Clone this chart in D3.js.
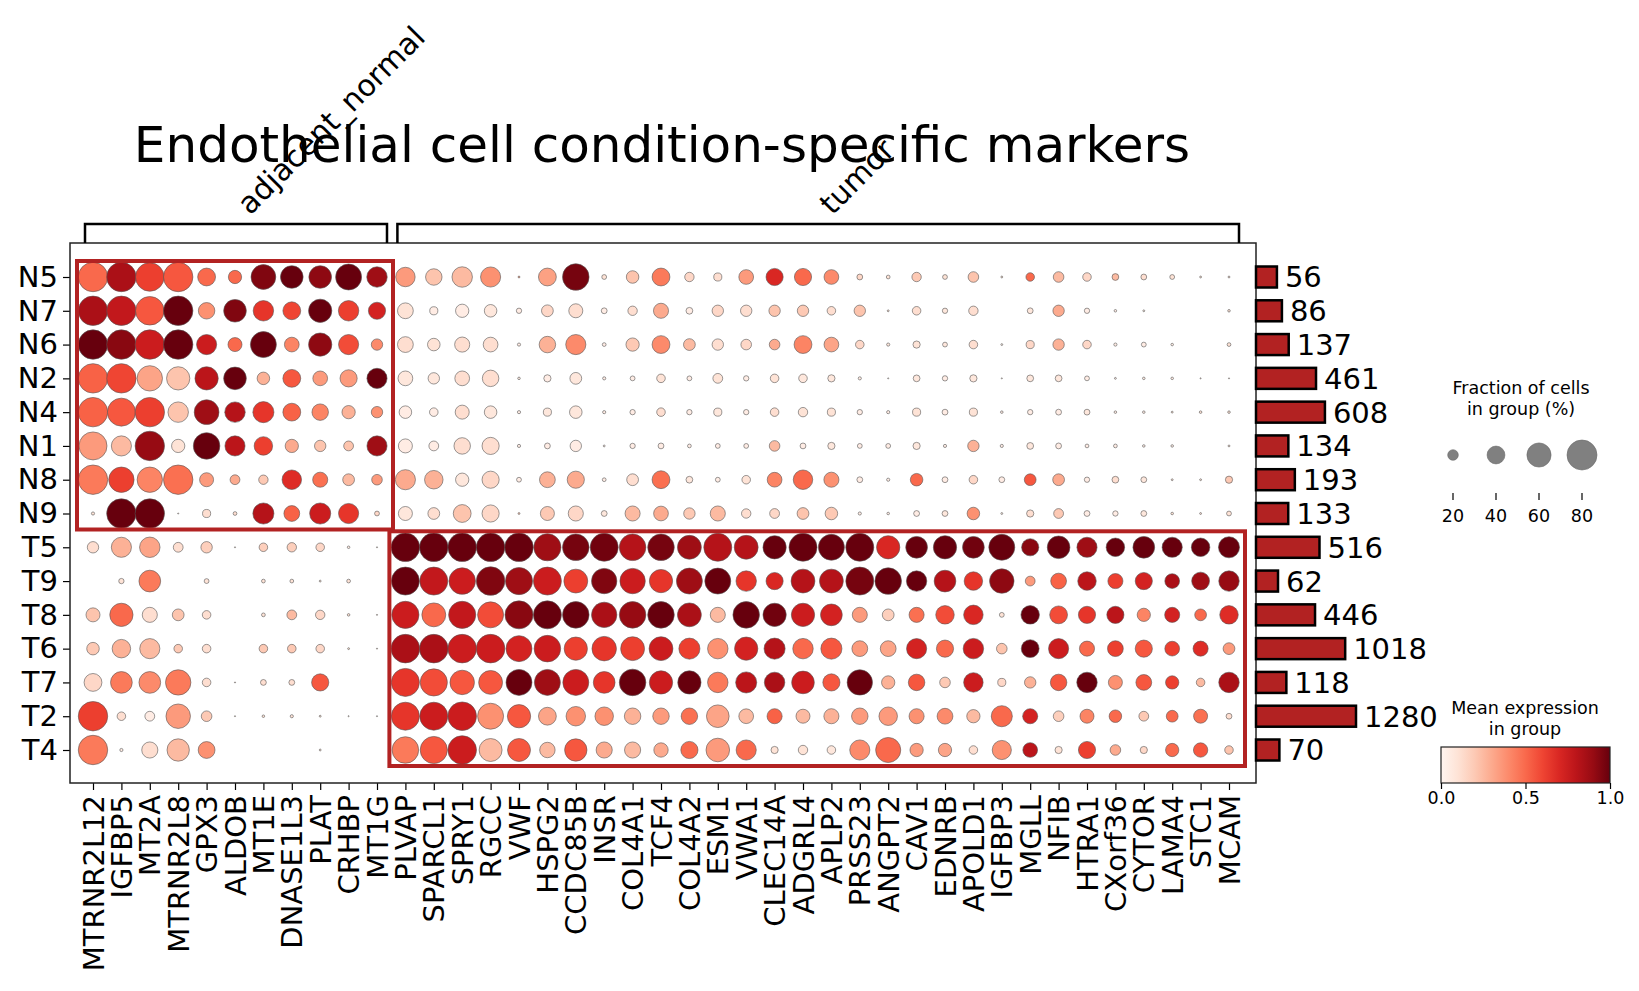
<!DOCTYPE html>
<html>
<head>
<meta charset="utf-8">
<script src="https://cdn.jsdelivr.net/npm/d3@7"></script>
<style>
  body { margin: 0; background: #fff; }
  text { font-family: "DejaVu Sans", sans-serif; fill: #000; }
</style>
</head>
<body>
<svg id="chart" width="1639" height="991"></svg>
<script>
// genes (columns), grouped by condition
const genes = ['MTRNR2L12','IGFBP5','MT2A','MTRNR2L8','GPX3','ALDOB','MT1E','DNASE1L3','PLAT','CRHBP','MT1G',
  'PLVAP','SPARCL1','SPRY1','RGCC','VWF','HSPG2','CCDC85B','INSR','COL4A1','TCF4','COL4A2','ESM1','VWA1',
  'CLEC14A','ADGRL4','APLP2','PRSS23','ANGPT2','CAV1','EDNRB','APOLD1','IGFBP3','MGLL','NFIB','HTRA1',
  'CXorf36','CYTOR','LAMA4','STC1','MCAM']
const conditions = [
  { name: 'adjacent_normal', first: 0, last: 10 },
  { name: 'tumor', first: 11, last: 40 }
]
const groups = ['N5','N7','N6','N2','N4','N1','N8','N9','T5','T9','T8','T6','T7','T2','T4']
const cellCounts = [56, 86, 137, 461, 608, 134, 193, 133, 516, 62, 446, 1018, 118, 1280, 70]

// fraction of cells expressing (%), one row per group
const fractionPct = [
  [78,78,75,78,40,27,62,55,55,66,48, 45,36,48,47,2,40,68,7,25,40,17,14,31,38,38, 31,9,5,17,7,20,2,15,20,15,11,9,7,2,2],
  [78,78,75,78,36,55,48,40,57,48,38, 34,14,27,25,8,23,29,9,17,32,11,22,22,22,22, 15,22,2,15,8,17,0,9,22,8,3,2,0,0,3],
  [78,78,78,78,47,29,66,31,57,47,22, 34,25,32,31,4,36,47,5,27,40,23,22,20,20,40, 31,15,4,12,7,15,2,14,22,15,4,7,3,0,5],
  [78,78,64,57,57,55,25,40,31,38,47, 31,22,31,36,3,12,23,4,7,15,7,18,8,15,15, 12,4,1,11,8,12,1,11,11,7,2,3,3,1,1],
  [78,73,78,48,62,48,50,40,36,27,22, 25,15,29,25,4,14,25,4,8,15,8,14,8,15,17, 14,8,4,14,9,14,3,8,9,9,3,3,2,3,3],
  [73,47,78,27,68,47,42,27,22,18,47, 29,18,36,38,4,9,22,2,8,9,5,7,7,20,9, 12,7,7,12,4,22,4,11,9,5,5,3,3,0,2],
  [78,64,64,78,29,18,17,45,32,23,20, 47,42,27,38,7,34,38,5,23,40,11,7,15,31,45, 32,9,4,25,9,15,9,23,23,8,11,9,2,2,12],
  [4,78,78,1,14,5,50,34,50,47,7, 29,23,40,38,2,29,32,9,32,31,22,32,17,18,23, 25,4,3,9,9,25,2,12,18,9,8,9,3,2,7],
  [22,47,48,18,22,1,15,17,15,3,1, 75,75,75,75,75,70,68,73,68,68,59,73,59,57,73, 66,73,57,52,57,52,66,38,55,47,42,52,47,42,50],
  [0,8,52,0,7,0,5,5,2,5,0, 73,73,68,75,70,73,59,64,64,57,66,66,48,38,59, 59,73,68,48,52,42,61,18,34,42,32,38,31,40,48],
  [29,57,32,23,15,0,5,18,17,3,1, 70,59,70,66,73,73,68,64,68,68,59,32,68,57,57, 52,32,23,32,42,45,7,42,40,38,38,27,32,23,42],
  [25,42,47,15,15,0,15,15,15,2,1, 75,75,75,75,66,68,57,61,59,59,50,48,57,50,48, 50,34,34,47,38,48,20,40,47,32,34,38,31,32,23],
  [40,52,52,64,15,1,9,9,38,0,0, 73,70,61,59,66,66,66,52,68,57,57,48,50,48,55, 38,64,27,36,20,45,14,22,36,48,29,34,27,15,48],
  [78,15,18,61,20,1,3,4,2,1,1, 73,73,75,66,57,40,45,42,36,36,36,55,31,32,29, 32,36,42,32,34,27,50,32,20,29,25,18,23,29,9],
  [78,4,35,54,37,0,0,0,2,0,0, 68,70,75,56,56,33,54,35,35,30,38,58,47,12,17, 15,47,63,27,27,15,44,31,12,38,20,12,27,30,15]
]

// mean expression in group (scaled 0-1), one row per group
const meanExpr = [
  [0.5,0.85,0.62,0.55,0.5,0.5,0.95,1.0,0.92,1.0,0.88, 0.35,0.22,0.25,0.38,0.3,0.33,0.97,0.1,0.22,0.45,0.15,0.12,0.35,0.7,0.5, 0.4,0.15,0.1,0.2,0.1,0.22,0.1,0.5,0.25,0.15,0.25,0.12,0.1,0.1,0.1],
  [0.85,0.78,0.55,1.0,0.38,0.95,0.65,0.6,1.0,0.62,0.72, 0.1,0.05,0.05,0.08,0.05,0.15,0.12,0.05,0.12,0.3,0.05,0.15,0.12,0.22,0.2, 0.12,0.22,0.1,0.12,0.08,0.12,0,0.08,0.3,0.05,0.05,0.05,0,0,0.1],
  [1.0,0.93,0.75,1.0,0.75,0.5,1.0,0.42,0.92,0.58,0.4, 0.12,0.1,0.12,0.12,0.05,0.28,0.4,0.05,0.2,0.4,0.25,0.12,0.15,0.3,0.42, 0.32,0.15,0.08,0.1,0.08,0.12,0.05,0.15,0.28,0.15,0.05,0.05,0.05,0,0.1],
  [0.52,0.6,0.32,0.22,0.8,1.0,0.28,0.55,0.35,0.35,1.0, 0.08,0.08,0.12,0.12,0.05,0.05,0.08,0.05,0.05,0.1,0.05,0.1,0.05,0.1,0.08, 0.08,0.05,0.05,0.08,0.05,0.08,0.05,0.08,0.08,0.05,0.05,0.05,0.05,0.1,0.1],
  [0.52,0.55,0.62,0.22,0.88,0.82,0.65,0.52,0.42,0.28,0.38, 0.05,0.05,0.12,0.08,0.05,0.08,0.08,0.05,0.05,0.12,0.05,0.08,0.05,0.12,0.1, 0.1,0.05,0.05,0.1,0.05,0.1,0.05,0.05,0.05,0.08,0.05,0.05,0.1,0.1,0.1],
  [0.35,0.25,0.9,0.1,1.0,0.8,0.62,0.3,0.22,0.22,0.88, 0.05,0.05,0.12,0.12,0.05,0.05,0.05,0.05,0.05,0.05,0.05,0.05,0.05,0.25,0.05, 0.08,0.05,0.05,0.08,0.05,0.28,0.05,0.08,0.05,0.05,0.05,0.05,0.05,0,0.1],
  [0.45,0.62,0.42,0.48,0.35,0.3,0.2,0.68,0.48,0.25,0.35, 0.3,0.28,0.08,0.15,0.05,0.28,0.3,0.05,0.12,0.48,0.08,0.05,0.1,0.42,0.5, 0.38,0.05,0.05,0.5,0.05,0.15,0.05,0.55,0.3,0.05,0.12,0.08,0.1,0.1,0.2],
  [0.1,1.0,1.0,0.1,0.12,0.12,0.82,0.52,0.75,0.65,0.15, 0.08,0.12,0.22,0.15,0.2,0.2,0.15,0.08,0.25,0.3,0.2,0.25,0.12,0.15,0.22, 0.2,0.05,0.05,0.05,0.08,0.38,0.05,0.12,0.2,0.05,0.05,0.08,0.1,0.1,0.1],
  [0.12,0.28,0.32,0.12,0.18,0.1,0.18,0.18,0.15,0.05,0.1, 1.0,1.0,1.0,1.0,1.0,0.88,0.97,0.98,0.82,0.97,0.88,0.82,0.82,1.0,1.0, 1.0,1.0,0.7,1.0,1.0,0.98,1.0,0.93,1.0,0.88,1.0,1.0,1.0,1.0,1.0],
  [0,0.1,0.45,0,0.1,0,0.1,0.1,0.1,0.1,0, 1.0,0.78,0.75,0.95,0.88,0.75,0.62,0.95,0.75,0.65,0.88,1.0,0.65,0.7,0.82, 0.82,0.97,1.0,1.0,0.82,0.65,0.92,0.35,0.52,0.8,0.62,0.72,0.85,0.88,0.9],
  [0.22,0.5,0.12,0.22,0.12,0,0.1,0.25,0.15,0.1,0.1, 0.75,0.5,0.78,0.58,0.93,1.0,1.0,0.85,0.9,1.0,0.85,0.25,1.0,0.98,0.75, 0.72,0.35,0.18,0.48,0.58,0.7,0.1,1.0,0.58,0.65,0.8,0.42,0.72,0.5,0.68],
  [0.2,0.28,0.25,0.2,0.12,0,0.2,0.2,0.15,0.1,0.1, 0.85,0.85,0.75,0.75,0.72,0.75,0.62,0.65,0.62,0.75,0.62,0.38,0.72,0.82,0.5, 0.55,0.35,0.32,0.72,0.5,0.75,0.22,1.0,0.75,0.5,0.62,0.55,0.62,0.68,0.35],
  [0.15,0.45,0.4,0.45,0.12,0.1,0.12,0.12,0.55,0,0, 0.65,0.58,0.55,0.55,1.0,0.88,0.75,0.65,1.0,0.75,1.0,0.45,0.8,0.85,0.75, 0.55,1.0,0.28,0.55,0.2,0.75,0.15,0.28,0.55,1.0,0.38,0.55,0.62,0.25,0.85],
  [0.62,0.12,0.05,0.35,0.2,0.1,0.1,0.1,0.1,0.1,0.05, 0.65,0.75,0.75,0.38,0.55,0.32,0.38,0.38,0.28,0.35,0.48,0.32,0.25,0.52,0.25, 0.28,0.35,0.35,0.38,0.4,0.25,0.5,0.72,0.18,0.42,0.5,0.2,0.5,0.48,0.12],
  [0.45,0.05,0.12,0.25,0.38,0,0,0,0.1,0,0, 0.45,0.55,0.75,0.25,0.55,0.25,0.55,0.3,0.25,0.3,0.5,0.35,0.5,0.1,0.1, 0.08,0.4,0.5,0.35,0.32,0.12,0.38,0.8,0.1,0.62,0.3,0.15,0.5,0.55,0.22]
]

const sizeLegendTicks = [20, 40, 60, 80]
const colorTicks = [0, 0.5, 1]

// plot frame
const frame = { left: 70, right: 1256, top: 243, bottom: 783 }
const boxColor = '#b22222'

const svg = d3.select('#chart')

const xScale = d3.scalePoint().domain(genes).range([93, 1229])
const yScale = d3.scalePoint().domain(groups).range([277, 750])
const rScale = d3.scalePow().exponent(0.75).domain([0, 80]).range([0, 15])
const color = d3.scaleSequential(d3.interpolateReds).domain([0, 1])
const barScale = d3.scaleSqrt().domain([0, 1280]).range([0, 100])

// title
svg.append('text')
    .attr('x', 662).attr('y', 162)
    .attr('text-anchor', 'middle')
    .style('font-size', '50px')
    .text('Endothelial cell condition-specific markers')

// frame + axes
const xAxis = svg.append('g')
    .attr('transform', `translate(0,${frame.bottom})`)
    .call(d3.axisBottom(xScale).tickSize(7).tickPadding(6))
xAxis.select('.domain').remove()
xAxis.selectAll('.tick line').attr('stroke', '#000').attr('stroke-width', 1.2)
xAxis.selectAll('text')
    .attr('transform', 'rotate(-90)')
    .attr('text-anchor', 'end')
    .attr('x', -12).attr('y', 0).attr('dy', '0.35em')
    .style('font-size', '29px')
    .style('font-family', '"DejaVu Sans", sans-serif')

const yAxis = svg.append('g')
    .attr('transform', `translate(${frame.left},0)`)
    .call(d3.axisLeft(yScale).tickSize(7).tickPadding(5))
yAxis.select('.domain').remove()
yAxis.selectAll('.tick line').attr('stroke', '#000').attr('stroke-width', 1.2)
yAxis.selectAll('text')
    .style('font-size', '29px')
    .style('font-family', '"DejaVu Sans", sans-serif')

svg.append('rect')
    .attr('x', frame.left).attr('y', frame.top)
    .attr('width', frame.right - frame.left).attr('height', frame.bottom - frame.top)
    .attr('fill', 'none').attr('stroke', '#222').attr('stroke-width', 1.5)

// dots
const cells = []
groups.forEach((g, i) => genes.forEach((gene, j) => {
    if (fractionPct[i][j] > 0) cells.push({ g, gene, frac: fractionPct[i][j], mean: meanExpr[i][j] })
}))
svg.append('g').selectAll('circle')
    .data(cells)
    .join('circle')
    .attr('cx', d => xScale(d.gene))
    .attr('cy', d => yScale(d.g))
    .attr('r', d => rScale(d.frac))
    .attr('fill', d => color(d.mean))
    .attr('stroke', '#555')
    .attr('stroke-width', 0.6)

// condition boxes around their own groups
const boxPad = 16
function drawBox(c0, c1, r0, r1) {
    const x0 = xScale(genes[c0]) - boxPad, x1 = xScale(genes[c1]) + boxPad
    const y0 = yScale(groups[r0]) - boxPad, y1 = yScale(groups[r1]) + boxPad
    svg.append('rect')
        .attr('x', x0).attr('y', y0)
        .attr('width', x1 - x0).attr('height', y1 - y0)
        .attr('fill', 'none').attr('stroke', boxColor).attr('stroke-width', 4)
}
drawBox(0, 10, 0, 7)
drawBox(11, 40, 8, 14)

// condition brackets + labels
conditions.forEach(c => {
    const x0 = xScale(genes[c.first]) - 8, x1 = xScale(genes[c.last]) + 10
    svg.append('path')
        .attr('d', `M${x0},${frame.top} V224 H${x1} V${frame.top}`)
        .attr('fill', 'none').attr('stroke', '#000').attr('stroke-width', 2.5)
    const cx = (x0 + x1) / 2 + 14
    svg.append('text')
        .attr('transform', `translate(${cx},216) rotate(-45)`)
        .style('font-size', '30px')
        .text(c.name)
})

// cell count bars
const barG = svg.append('g')
groups.forEach((g, i) => {
    const w = barScale(cellCounts[i])
    barG.append('rect')
        .attr('x', frame.right).attr('y', yScale(g) - 10.5)
        .attr('width', w).attr('height', 21)
        .attr('fill', boxColor).attr('stroke', '#000').attr('stroke-width', 2.5)
    barG.append('text')
        .attr('x', frame.right + w + 8).attr('y', yScale(g))
        .attr('dy', '0.36em')
        .style('font-size', '29px')
        .text(cellCounts[i])
})

// size legend
const sizeX = d3.scalePoint().domain(sizeLegendTicks).range([1453, 1582])
const sizeG = svg.append('g')
sizeG.append('text').attr('x', 1521).attr('y', 394).attr('text-anchor', 'middle')
    .style('font-size', '17.5px').text('Fraction of cells')
sizeG.append('text').attr('x', 1521).attr('y', 415).attr('text-anchor', 'middle')
    .style('font-size', '17.5px').text('in group (%)')
sizeG.selectAll('circle').data(sizeLegendTicks).join('circle')
    .attr('cx', d => sizeX(d)).attr('cy', 455)
    .attr('r', d => rScale(d))
    .attr('fill', '#808080').attr('stroke', '#6a6a6a').attr('stroke-width', 0.6)
sizeG.selectAll('line').data(sizeLegendTicks).join('line')
    .attr('x1', d => sizeX(d)).attr('x2', d => sizeX(d))
    .attr('y1', 493).attr('y2', 500)
    .attr('stroke', '#000').attr('stroke-width', 1.2)
sizeG.selectAll('.lab').data(sizeLegendTicks).join('text')
    .attr('class', 'lab')
    .attr('x', d => sizeX(d)).attr('y', 522)
    .attr('text-anchor', 'middle')
    .style('font-size', '17.5px')
    .text(d => d)

// colorbar
const cbX = d3.scaleLinear().domain([0, 1]).range([1441, 1610])
const grad = svg.append('defs').append('linearGradient').attr('id', 'reds')
d3.range(0, 1.01, 0.1).forEach(t => {
    grad.append('stop').attr('offset', t).attr('stop-color', color(t))
})
svg.append('text').attr('x', 1525).attr('y', 714).attr('text-anchor', 'middle')
    .style('font-size', '17.5px').text('Mean expression')
svg.append('text').attr('x', 1525).attr('y', 735).attr('text-anchor', 'middle')
    .style('font-size', '17.5px').text('in group')
svg.append('rect')
    .attr('x', cbX(0)).attr('y', 747)
    .attr('width', cbX(1) - cbX(0)).attr('height', 36)
    .attr('fill', 'url(#reds)').attr('stroke', '#222').attr('stroke-width', 1.2)
const cbAxis = svg.append('g')
    .attr('transform', 'translate(0,783)')
    .call(d3.axisBottom(cbX).tickValues(colorTicks).tickFormat(d3.format('.1f')).tickSize(6))
cbAxis.select('.domain').remove()
cbAxis.selectAll('.tick line').attr('stroke', '#000').attr('stroke-width', 1.2)
cbAxis.selectAll('text')
    .style('font-size', '17.5px')
    .style('font-family', '"DejaVu Sans", sans-serif')
</script>
</body>
</html>
